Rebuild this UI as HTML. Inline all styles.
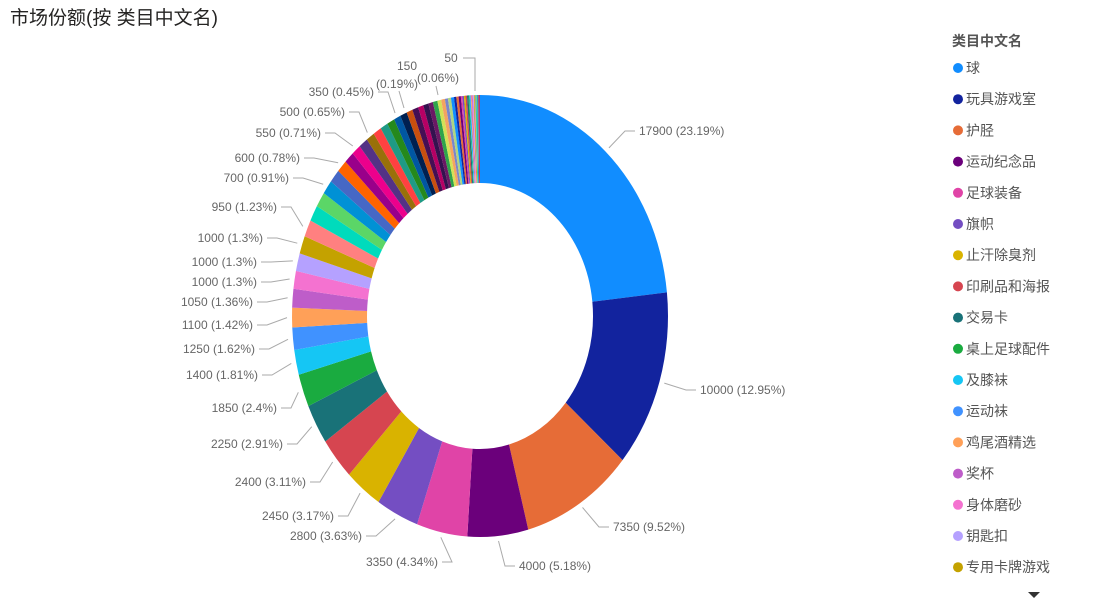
<!DOCTYPE html>
<html><head><meta charset="utf-8"><style>
body{margin:0;width:1112px;height:611px;background:#fff;overflow:hidden;font-family:"Liberation Sans","Noto Sans CJK SC",sans-serif}
</style></head><body>
<svg id="s" width="1112" height="611" xmlns="http://www.w3.org/2000/svg" style="position:absolute;left:0;top:0">
<text x="10" y="24" font-size="19" fill="#252423" font-family="Liberation Sans,Noto Sans CJK SC,sans-serif">市场份额(按 类目中文名)</text>
<g id="pie"></g><g id="lab" font-size="12" fill="#666" font-family="Liberation Sans,Noto Sans CJK SC,sans-serif"></g>
<g id="leg" font-family="Liberation Sans,Noto Sans CJK SC,sans-serif"></g>
<path d="M1028 592 L1040 592 L1034 598 Z" fill="#333"/>
</svg>
<script>
var cx=480,cy=316,rx=188,ry=221,irx=113,iry=133;
var vals=[17900,10000,7350,4000,3350,2800,2450,2400,2250,1850,1400,1250,1100,1050,1000,1000,1000,950,
900,850,800,750,700,650,600,600,550,550,500,500,450,450,400,400,350,350,300,300,250,250,200,200,200,150,150,150,100,100,100,100,100,50,50,50,50,50,50,50,50,50,50,50,50,50,50,50];
var s=0;vals.forEach(v=>s+=v);
var cols=["#118DFF","#12239E","#E66C37","#6B007B","#E044A7","#744EC2","#D9B300","#D64550","#197278","#1AAB40","#15C6F4","#4092FF","#FFA058","#BE5DC9","#F472D0","#B5A1FF","#C4A200","#FF8080","#00DBBC","#5BD667","#0091D5","#4668C5","#FF6300","#99008A","#EC008C","#533285","#99700A","#FF4141","#1F9A85","#25891C","#0057A2","#002050","#C94F0F","#450F54","#B60064","#34124F","#6A1864","#2FA44B","#D4E157","#F4A460","#7986CB","#AED581"];
function pt(a,fx,fy){return [cx+fx*Math.sin(a),cy-fy*Math.cos(a)];}
var h="",a=0,mids=[];
vals.forEach((v,i)=>{var d=v/s*2*Math.PI,b=a+d;var p1=pt(a,rx,ry),p2=pt(b,rx,ry),p3=pt(b,irx,iry),p4=pt(a,irx,iry);var L=d>Math.PI?1:0;
h+=`<path d="M${p1} A${rx} ${ry} 0 ${L} 1 ${p2} L${p3} A${irx} ${iry} 0 ${L} 0 ${p4}Z" fill="${cols[i%cols.length]}"/>`;mids.push(a+d/2);a=b;});
document.getElementById('pie').innerHTML=h;
var labs=[[0,"17900 (23.19%)",639,135,1],[1,"10000 (12.95%)",700,394,1],[2,"7350 (9.52%)",613,531,1],[3,"4000 (5.18%)",519,570,1],
[4,"3350 (4.34%)",438,566,0],[5,"2800 (3.63%)",362,540,0],[6,"2450 (3.17%)",334,520,0],[7,"2400 (3.11%)",306,486,0],[8,"2250 (2.91%)",283,448,0],
[9,"1850 (2.4%)",277,412,0],[10,"1400 (1.81%)",258,379,0],[11,"1250 (1.62%)",255,353,0],[12,"1100 (1.42%)",253,329,0],[13,"1050 (1.36%)",253,306,0],
[14,"1000 (1.3%)",257,286,0],[15,"1000 (1.3%)",257,266,0],[16,"1000 (1.3%)",263,242,0],[17,"950 (1.23%)",277,211,0],[20,"700 (0.91%)",289,182,0],
[22,"600 (0.78%)",300,162,0],[24,"550 (0.71%)",321,137,0],[26,"500 (0.65%)",345,116,0],[30,"350 (0.45%)",374,96,0]];
var t="";
labs.forEach(l=>{var m=mids[l[0]],e=pt(m,rx+5,ry+5),y=l[3]-4,x0=l[4]?l[2]-4:l[2]+4,x1=l[4]?x0-10:x0+10;
t+=`<polyline points="${e} ${x1},${y} ${x0},${y}" fill="none" stroke="#aaa" stroke-width="1"/>`;
t+=`<text x="${l[2]}" y="${l[3]}" text-anchor="${l[4]?'start':'end'}">${l[1]}</text>`;});
t+=`<text x="407" y="70" text-anchor="middle">150</text><text x="397" y="88" text-anchor="middle">(0.19%)</text><polyline points="399,91 404,108" fill="none" stroke="#aaa"/>`;
t+=`<text x="451" y="62" text-anchor="middle">50</text><text x="438" y="82" text-anchor="middle">(0.06%)</text><polyline points="463,58 475,58 475,91" fill="none" stroke="#aaa"/><polyline points="436,86 438,95" fill="none" stroke="#aaa"/>`;
document.getElementById('lab').innerHTML=t;
var names=["球","玩具游戏室","护胫","运动纪念品","足球装备","旗帜","止汗除臭剂","印刷品和海报","交易卡","桌上足球配件","及膝袜","运动袜","鸡尾酒精选","奖杯","身体磨砂","钥匙扣","专用卡牌游戏"];
var g=`<text x="952" y="46" font-size="14" font-weight="bold" fill="#555">类目中文名</text>`;
names.forEach((n,i)=>{var y=68+i*31.2;g+=`<circle cx="958" cy="${y}" r="5" fill="${cols[i]}"/><text x="966" y="${y+5}" font-size="14" fill="#555">${n}</text>`;});
document.getElementById('leg').innerHTML=g;
</script>
</body></html>
